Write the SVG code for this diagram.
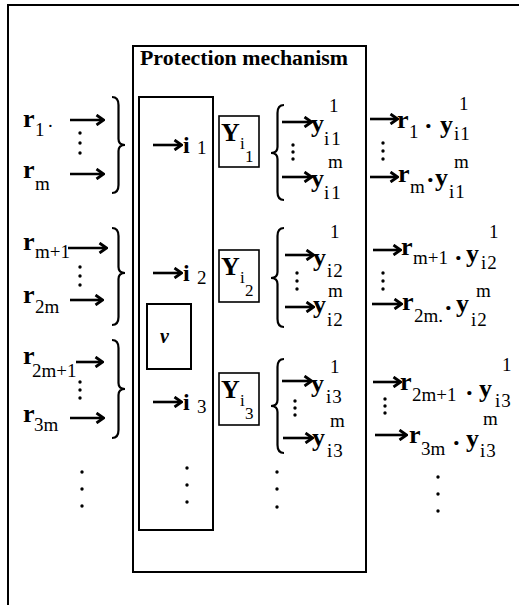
<svg xmlns="http://www.w3.org/2000/svg" width="519" height="605" viewBox="0 0 519 605">
<style>
.b{font-family:"Liberation Serif",serif;font-weight:bold;font-size:26px;fill:#000}
.bi{font-family:"Liberation Serif",serif;font-weight:bold;font-size:24px;fill:#000}
.s{font-family:"Liberation Serif",serif;font-size:19px;fill:#000}
.ss{font-family:"Liberation Serif",serif;font-size:17px;fill:#000}
.t{font-family:"Liberation Serif",serif;font-weight:bold;font-size:20px;fill:#000}
.box{fill:none;stroke:#000;stroke-width:2}
.thin{fill:none;stroke:#000;stroke-width:1.6}
.arr{fill:none;stroke:#000;stroke-width:2.6;marker-end:url(#ah)}
.br{fill:none;stroke:#000;stroke-width:2.2}
.d{fill:#000}
</style>
<defs>
<marker id="ah" viewBox="0 0 10 12" refX="8" refY="6" markerWidth="10" markerHeight="12" markerUnits="userSpaceOnUse" orient="auto">
<path d="M1.5,1 L8.5,6 L1.5,11" fill="none" stroke="#000" stroke-width="2.8"/>
</marker>
</defs>
<rect width="519" height="605" fill="#fff"/>
<g id="frame">
<path d="M8,605 V5 H519" class="box"/>
</g>
<g id="protection-mechanism">
<rect x="133" y="46" width="233" height="526" class="box"/>
<text x="140" y="65" class="t" textLength="208" lengthAdjust="spacingAndGlyphs">Protection mechanism</text>
</g>
<g id="index-column">
<rect x="139" y="97" width="74" height="433" class="box"/>
<text x="183" y="153" class="bi">i</text><text x="197" y="154" class="s">1</text>
<text x="183" y="281" class="bi">i</text><text x="197" y="284" class="s">2</text>
<text x="183" y="410" class="bi">i</text><text x="197" y="413" class="s">3</text>
<circle cx="187" cy="468" r="1.7" class="d"/><circle cx="187" cy="485" r="1.7" class="d"/><circle cx="187" cy="502" r="1.7" class="d"/>
</g>
<g id="nu">
<rect x="147" y="304" width="44" height="65" class="box"/>
<text x="160" y="343" class="t" font-style="italic">ν</text>
</g>
<g id="Y1">
<rect x="219" y="116" width="40" height="51" class="thin"/>
<text x="221" y="141" class="b">Y</text><text x="240" y="149" class="ss">i</text><text x="245" y="162" class="ss">1</text>
</g>
<g id="Y2">
<rect x="219" y="250" width="40" height="52" class="thin"/>
<text x="221" y="275" class="b">Y</text><text x="240" y="283" class="ss">i</text><text x="245" y="296" class="ss">2</text>
</g>
<g id="Y3">
<rect x="219" y="373" width="40" height="52" class="thin"/>
<text x="221" y="398" class="b">Y</text><text x="240" y="406" class="ss">i</text><text x="245" y="419" class="ss">3</text>
</g>
<g id="inputs-1">
<text x="23" y="127" class="b">r</text><text x="35" y="136" class="s">1</text><text x="48" y="127" class="s">.</text>
<circle cx="80" cy="133" r="1.7" class="d"/><circle cx="80" cy="143" r="1.7" class="d"/><circle cx="80" cy="153" r="1.7" class="d"/>
<text x="23" y="178" class="b">r</text><text x="35" y="190" class="s">m</text>
</g>
<g id="inputs-2">
<text x="23" y="250" class="b">r</text><text x="35" y="258" class="s">m+1</text>
<circle cx="80" cy="267" r="1.7" class="d"/><circle cx="80" cy="276" r="1.7" class="d"/><circle cx="80" cy="285" r="1.7" class="d"/>
<text x="23" y="303" class="b">r</text><text x="35" y="313" class="s">2m</text>
</g>
<g id="inputs-3">
<text x="23" y="364" class="b">r</text><text x="32" y="377" class="s">2m+1</text>
<circle cx="80" cy="382" r="1.7" class="d"/><circle cx="80" cy="390" r="1.7" class="d"/><circle cx="80" cy="398" r="1.7" class="d"/>
<text x="23" y="422" class="b">r</text><text x="34" y="431" class="s">3m</text>
<circle cx="82" cy="472" r="1.7" class="d"/><circle cx="82" cy="489" r="1.7" class="d"/><circle cx="82" cy="506" r="1.7" class="d"/>
</g>
<g id="outputs-y1">
<text x="311" y="132" class="b">y</text><text x="329" y="112" class="s">1</text><text x="324" y="145" class="s" letter-spacing="2">i1</text>
<circle cx="293" cy="145" r="1.7" class="d"/><circle cx="293" cy="152" r="1.7" class="d"/><circle cx="293" cy="159" r="1.7" class="d"/>
<text x="311" y="187" class="b">y</text><text x="328" y="168" class="s">m</text><text x="324" y="199" class="s" letter-spacing="2">i1</text>
</g>
<g id="outputs-y2">
<text x="313" y="266" class="b">y</text><text x="330" y="238" class="s">1</text><text x="327" y="277" class="s" letter-spacing="1">i2</text>
<circle cx="297" cy="273" r="1.7" class="d"/><circle cx="297" cy="281" r="1.7" class="d"/><circle cx="297" cy="289" r="1.7" class="d"/>
<text x="313" y="313" class="b">y</text><text x="328" y="297" class="s">m</text><text x="327" y="326" class="s" letter-spacing="1">i2</text>
</g>
<g id="outputs-y3">
<text x="311" y="392" class="b">y</text><text x="330" y="373" class="s">1</text><text x="326" y="403" class="s" letter-spacing="1">i3</text>
<circle cx="295" cy="401" r="1.7" class="d"/><circle cx="295" cy="408" r="1.7" class="d"/><circle cx="295" cy="415" r="1.7" class="d"/>
<text x="312" y="446" class="b">y</text><text x="330" y="427" class="s">m</text><text x="327" y="457" class="s" letter-spacing="1">i3</text>
<circle cx="277" cy="472" r="1.7" class="d"/><circle cx="277" cy="489" r="1.7" class="d"/><circle cx="277" cy="507" r="1.7" class="d"/>
</g>
<g id="products-1">
<text x="397" y="128" class="b">r</text><text x="409" y="138" class="s">1</text><text x="424" y="134" class="b">·</text>
<text x="440" y="133" class="b">y</text><text x="459" y="110" class="s">1</text><text x="454" y="140" class="s" letter-spacing="1">i1</text>
<circle cx="383" cy="143" r="1.7" class="d"/><circle cx="383" cy="151" r="1.7" class="d"/><circle cx="383" cy="159" r="1.7" class="d"/>
<text x="398" y="182" class="b">r</text><text x="410" y="193" class="s">m</text><text x="426" y="188" class="b">·</text>
<text x="435" y="186" class="b">y</text><text x="454" y="168" class="s">m</text><text x="449" y="198" class="s" letter-spacing="1">i1</text>
</g>
<g id="products-2">
<text x="401" y="255" class="b">r</text><text x="413" y="264" class="s">m+1</text><text x="454" y="266" class="b">·</text>
<text x="466" y="262" class="b">y</text><text x="489" y="238" class="s">1</text><text x="481" y="269" class="s" letter-spacing="1">i2</text>
<circle cx="383" cy="273" r="1.7" class="d"/><circle cx="383" cy="281" r="1.7" class="d"/><circle cx="383" cy="289" r="1.7" class="d"/>
<text x="402" y="310" class="b">r</text><text x="414" y="322" class="s">2m.</text><text x="444" y="316" class="b">·</text>
<text x="456" y="312" class="b">y</text><text x="476" y="297" class="s">m</text><text x="471" y="326" class="s" letter-spacing="1">i2</text>
</g>
<g id="products-3">
<text x="400" y="390" class="b">r</text><text x="412" y="401" class="s">2m+1</text><text x="465" y="401" class="b">·</text>
<text x="479" y="397" class="b">y</text><text x="502" y="371" class="s">1</text><text x="495" y="407" class="s" letter-spacing="1">i3</text>
<circle cx="385" cy="399" r="1.7" class="d"/><circle cx="385" cy="406" r="1.7" class="d"/><circle cx="385" cy="413" r="1.7" class="d"/>
<text x="409" y="443" class="b">r</text><text x="421" y="455" class="s">3m</text><text x="452" y="451" class="b">·</text>
<text x="466" y="447" class="b">y</text><text x="483" y="425" class="s">m</text><text x="480" y="457" class="s" letter-spacing="1">i3</text>
<circle cx="438" cy="477" r="1.7" class="d"/><circle cx="438" cy="494" r="1.7" class="d"/><circle cx="438" cy="511" r="1.7" class="d"/>
</g>
<g id="braces">
<path class="br" d="M112,97 Q118.5,97 118.5,105 L118.5,139 Q118.5,145 125,145 Q118.5,145 118.5,151 L118.5,185 Q118.5,193 112,193"/>
<path class="br" d="M112,228 Q118.5,228 118.5,236 L118.5,267 Q118.5,273 125,273 Q118.5,273 118.5,279 L118.5,317 Q118.5,325 112,325"/>
<path class="br" d="M112,340 Q118.5,340 118.5,348 L118.5,383 Q118.5,389 125,389 Q118.5,389 118.5,395 L118.5,430 Q118.5,438 112,438"/>
<path class="br" d="M284,105 Q277.5,105 277.5,113 L277.5,147 Q277.5,153 271,153 Q277.5,153 277.5,159 L277.5,192 Q277.5,200 284,200"/>
<path class="br" d="M284,228 Q277.5,228 277.5,236 L277.5,272 Q277.5,278 271,278 Q277.5,278 277.5,284 L277.5,319 Q277.5,327 284,327"/>
<path class="br" d="M284,359 Q277.5,359 277.5,367 L277.5,400 Q277.5,406 271,406 Q277.5,406 277.5,412 L277.5,445 Q277.5,453 284,453"/>
</g>
<g id="connectors">
<path class="arr" d="M70,120 H103"/>
<path class="arr" d="M70,174 H103"/>
<path class="arr" d="M68,248 H106"/>
<path class="arr" d="M70,300 H102"/>
<path class="arr" d="M76,362 H102"/>
<path class="arr" d="M70,418 H103"/>
<path class="arr" d="M153,145 H181"/>
<path class="arr" d="M153,273 H181"/>
<path class="arr" d="M153,402 H181"/>
<path class="arr" d="M282,122 H311"/>
<path class="arr" d="M282,177 H311"/>
<path class="arr" d="M285,255 H313"/>
<path class="arr" d="M285,307 H313"/>
<path class="arr" d="M282,381 H311"/>
<path class="arr" d="M283,438 H312"/>
<path class="arr" d="M370,119 H397"/>
<path class="arr" d="M370,177 H397"/>
<path class="arr" d="M373,250 H400"/>
<path class="arr" d="M372,304 H401"/>
<path class="arr" d="M373,382 H400"/>
<path class="arr" d="M375,435 H406"/>
</g>
</svg>
